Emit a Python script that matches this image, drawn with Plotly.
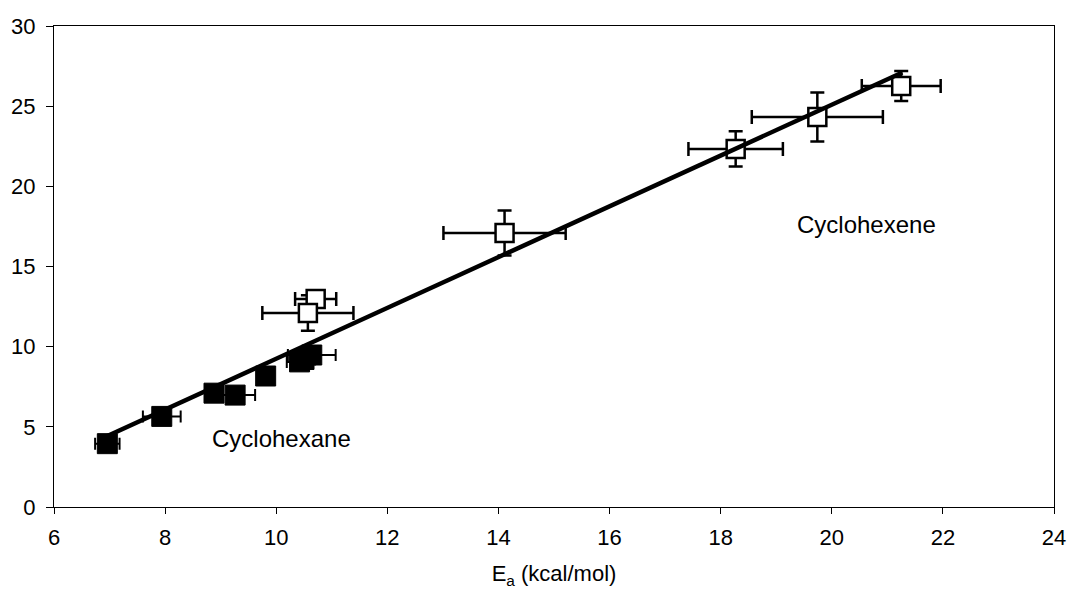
import plotly.graph_objects as go

# Cyclohexane (filled squares)
cyclohexane_ea = [6.96, 7.94, 8.88, 9.26, 9.81, 10.42, 10.50, 10.64]
cyclohexane_y = [3.95, 5.65, 7.10, 6.98, 8.17, 9.05, 9.20, 9.48]
cyclohexane_ea_err = [0.22, 0.34, 0.10, 0.36, 0.10, 0.23, 0.20, 0.43]
cyclohexane_y_err = [0.2, 0.2, 0.2, 0.2, 0.2, 0.2, 0.2, 0.2]

# Cyclohexene (open squares)
cyclohexene_ea = [10.71, 10.57, 14.11, 18.27, 19.74, 21.25]
cyclohexene_y = [12.97, 12.10, 17.09, 22.33, 24.33, 26.26]
cyclohexene_ea_err = [0.37, 0.82, 1.10, 0.85, 1.18, 0.71]
cyclohexene_y_err = [0.30, 1.10, 1.40, 1.10, 1.53, 0.93]

# Trend line end points
trend_x = [6.92, 21.27]
trend_y = [4.37, 27.10]

x_ticks = [6, 8, 10, 12, 14, 16, 18, 20, 22, 24]
y_ticks = [0, 5, 10, 15, 20, 25, 30]

FONT = "Liberation Sans, Arial, sans-serif"

fig = go.Figure()

fig.add_trace(go.Scatter(
    x=cyclohexane_ea, y=cyclohexane_y, mode="markers",
    marker=dict(symbol="square", size=20, color="black", line=dict(color="black", width=1)),
    error_x=dict(type="data", array=cyclohexane_ea_err, color="black", thickness=2, width=6),
    error_y=dict(type="data", array=cyclohexane_y_err, color="black", thickness=2, width=6),
    showlegend=False,
))

fig.add_trace(go.Scatter(
    x=cyclohexene_ea, y=cyclohexene_y, mode="markers",
    marker=dict(symbol="square", size=18, color="white", line=dict(color="black", width=2.5)),
    error_x=dict(type="data", array=cyclohexene_ea_err, color="black", thickness=2.5, width=7),
    error_y=dict(type="data", array=cyclohexene_y_err, color="black", thickness=2.5, width=7),
    showlegend=False,
))

fig.add_trace(go.Scatter(
    x=trend_x, y=trend_y, mode="lines",
    line=dict(color="black", width=4.5),
    showlegend=False,
))

fig.add_annotation(x=10.1, y=4.25, text="Cyclohexane", showarrow=False,
                   font=dict(family=FONT, size=24, color="black"))
fig.add_annotation(x=20.62, y=17.65, text="Cyclohexene", showarrow=False,
                   font=dict(family=FONT, size=24, color="black"))

fig.update_layout(
    width=1071, height=592,
    margin=dict(l=54, r=17, t=26, b=85, autoexpand=False),
    paper_bgcolor="white", plot_bgcolor="white",
    font=dict(family=FONT, size=22, color="black"),
)

fig.update_xaxes(
    range=[6, 24], tickvals=x_ticks, ticks="outside", ticklen=6, tickcolor="black",
    showline=True, linecolor="black", linewidth=1, mirror=True, showgrid=False, zeroline=False,
    title=dict(text="E<sub>a</sub> (kcal/mol)", font=dict(family=FONT, size=22), standoff=16),
    tickfont=dict(family=FONT, size=22), ticklabelstandoff=5, automargin=False,
)
fig.update_yaxes(
    range=[0, 30], tickvals=y_ticks, ticks="outside", ticklen=7, tickcolor="black",
    showline=True, linecolor="black", linewidth=1, mirror=True, showgrid=False, zeroline=False,
    tickfont=dict(family=FONT, size=22), ticklabelstandoff=6, automargin=False,
)

fig.write_html("out.html")
